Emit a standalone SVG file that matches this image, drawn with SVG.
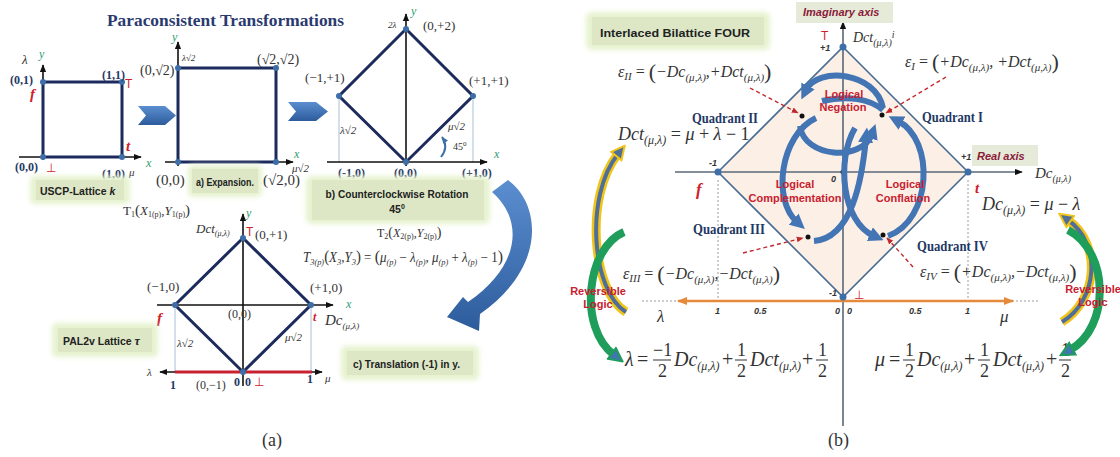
<svg xmlns="http://www.w3.org/2000/svg" width="1120" height="457" viewBox="0 0 1120 457">
<defs>
<style>
.ser{font-family:"Liberation Serif","Times New Roman",serif;}
.m{font-family:"Liberation Serif","Times New Roman",serif;font-style:italic;fill:#333;}
.n{font-family:"Liberation Serif","Times New Roman",serif;fill:#333;}
.cb{font-family:"Liberation Serif","Times New Roman",serif;font-weight:bold;fill:#1f3864;font-size:12px;}
.q{font-family:"Liberation Serif","Times New Roman",serif;font-weight:bold;fill:#1f3864;font-size:14px;}
.bx{font-family:"Liberation Sans",Arial,sans-serif;font-weight:bold;fill:#222;font-size:10.5px;}
.rd{font-family:"Liberation Sans",Arial,sans-serif;font-weight:bold;fill:#c8202e;font-size:11px;}
.rf{font-family:"Liberation Serif","Times New Roman",serif;font-weight:bold;font-style:italic;fill:#d0202a;}
.tT{font-family:"Liberation Sans",Arial,sans-serif;fill:#d0202a;font-size:12px;}
.g{font-family:"Liberation Serif","Times New Roman",serif;font-style:italic;fill:#2e9e6e;font-size:12px;}
.tk{font-family:"Liberation Sans",Arial,sans-serif;font-weight:bold;font-style:italic;fill:#333;font-size:9px;}
.ax{stroke:#111;stroke-width:1.6;fill:none;}
.nv{stroke:#1c2a5c;stroke-width:3;fill:none;}
.thin{stroke:#a8bfd8;stroke-width:1;}
.dot{fill:#3d6ea8;}
.bd{fill:#111;}
.sw{stroke:#4374b4;stroke-width:6;fill:none;}
.dr{stroke:#c0282d;stroke-width:1.4;stroke-dasharray:4 3;fill:none;}
.dg{stroke:#9a9a9a;stroke-width:1;stroke-dasharray:2 2;fill:none;}
.gb{fill:#e6f2cf;filter:url(#glow);}
.gi{fill:#dde7c6;}
.ia{font-family:"Liberation Sans",Arial,sans-serif;font-weight:bold;font-style:italic;fill:#8a1a3a;font-size:11px;}
</style>
<filter id="glow" x="-20%" y="-40%" width="140%" height="180%"><feGaussianBlur stdDeviation="2.5"/></filter>
<linearGradient id="bl" x1="0" y1="0" x2="0" y2="1"><stop offset="0" stop-color="#5b8ed0"/><stop offset="1" stop-color="#2d5c9c"/></linearGradient>
<marker id="ak" viewBox="0 0 10 10" refX="9" refY="5" markerWidth="8" markerHeight="8" markerUnits="userSpaceOnUse" orient="auto-start-reverse"><path d="M0,1 L10,5 L0,9 z" fill="#111"/></marker>
<marker id="ao" viewBox="0 0 10 10" refX="9" refY="5" markerWidth="10" markerHeight="10" markerUnits="userSpaceOnUse" orient="auto-start-reverse"><path d="M0,1 L10,5 L0,9 z" fill="#e5893a"/></marker>
<marker id="ar" viewBox="0 0 10 10" refX="9" refY="5" markerWidth="7" markerHeight="7" markerUnits="userSpaceOnUse" orient="auto"><path d="M0,1 L10,5 L0,9 z" fill="#c0282d"/></marker>
<marker id="abl" viewBox="0 0 10 10" refX="9" refY="5" markerWidth="7" markerHeight="7" markerUnits="userSpaceOnUse" orient="auto"><path d="M0,1 L10,5 L0,9 z" fill="#3d6ea8"/></marker>
<marker id="ab" viewBox="0 0 10 10" refX="3" refY="5" markerWidth="15" markerHeight="15" markerUnits="userSpaceOnUse" orient="auto"><path d="M0,0 L10,5 L0,10 z" fill="#4374b4"/></marker>
<marker id="ay" viewBox="0 0 12 12" refX="3" refY="6" markerWidth="16" markerHeight="16" markerUnits="userSpaceOnUse" orient="auto"><path d="M1,1 L11,6 L1,11 z" fill="#4f6f98" stroke="#f0c419" stroke-width="1.5"/></marker>
<marker id="ag" viewBox="0 0 12 12" refX="3" refY="6" markerWidth="16" markerHeight="16" markerUnits="userSpaceOnUse" orient="auto"><path d="M1,1 L11,6 L1,11 z" fill="#3f78ad" stroke="#1e9e5a" stroke-width="1.5"/></marker>
</defs>
<rect width="1120" height="457" fill="#ffffff"/>

<!-- ================= PANEL (a) ================= -->
<g id="title-a">
<text class="ser" x="107" y="26" font-weight="bold" font-size="17" fill="#2a3a70" textLength="237" lengthAdjust="spacingAndGlyphs">Paraconsistent Transformations</text>
</g>

<g id="uscp-lattice">
<line class="ax" x1="43" y1="160" x2="43" y2="65" marker-end="url(#ak)"/>
<line class="ax" x1="19" y1="157" x2="141" y2="157" marker-end="url(#ak)"/>
<rect class="nv" x="43" y="82" width="79" height="75"/>
<circle class="dot" cx="43" cy="82" r="3"/><circle class="dot" cx="122" cy="82" r="3"/>
<circle class="dot" cx="122" cy="157" r="3"/><circle class="dot" cx="43" cy="157" r="3"/>
<text class="m" x="22" y="64" font-size="13">λ</text>
<text class="g" x="39" y="58">y</text>
<text class="cb" x="10" y="84">(0,1)</text>
<text class="rf" x="30" y="99" font-size="15">f</text>
<text class="cb" x="102" y="79">(1,1)</text>
<text class="tT" x="125" y="88">T</text>
<text class="rf" x="126" y="151" font-size="15">t</text>
<text class="g" x="146" y="167">x</text>
<text class="cb" x="15" y="171">(0,0)</text>
<text class="tT" x="46" y="172">⊥</text>
<text class="cb" x="102" y="178">(1,0)</text>
<text class="m" x="129" y="176" font-size="11">μ</text>
<rect class="gb" x="30" y="176" width="100" height="28" rx="5"/>
<rect class="gi" x="36" y="180" width="88" height="20"/>
<text class="bx" x="40" y="195">USCP-Lattice <tspan font-style="italic">k</tspan></text>
</g>

<g id="arrow-1"><polygon points="138,106 165,106 176,115.5 165,125 138,125 146,115.5" fill="url(#bl)"/></g>

<g id="expansion">
<line class="ax" x1="178" y1="166" x2="178" y2="42" marker-end="url(#ak)"/>
<line class="ax" x1="165" y1="162" x2="293" y2="162" marker-end="url(#ak)"/>
<rect class="nv" x="178" y="68" width="98" height="94"/>
<circle class="dot" cx="178" cy="68" r="3"/><circle class="dot" cx="276" cy="68" r="3"/>
<circle class="dot" cx="276" cy="162" r="3"/><circle class="dot" cx="178" cy="162" r="3"/>
<text class="g" x="172" y="41" font-size="11">y</text>
<text class="n" x="140" y="75" font-size="14">(0,√2)</text>
<text class="m" x="182" y="61" font-size="9">λ√2</text>
<text class="n" x="257" y="64" font-size="14">(√2,√2)</text>
<text class="g" x="294" y="158">x</text>
<text class="m" x="292" y="172" font-size="11">μ√2</text>
<text class="n" x="156" y="185" font-size="15">(0,0)</text>
<rect class="gb" x="188" y="165" width="74" height="32" rx="5"/>
<rect class="gi" x="192" y="169" width="66" height="24"/>
<text class="bx" x="196" y="186" textLength="58" lengthAdjust="spacingAndGlyphs">a) Expansion.</text>
<text class="n" x="263" y="185" font-size="15">(√2,0)</text>
</g>

<g id="arrow-2"><polygon points="288,102 316,102 328,111.5 316,121 288,121 296,111.5" fill="url(#bl)"/></g>

<g id="rotation">
<line class="thin" x1="339" y1="96" x2="339" y2="162"/>
<line class="thin" x1="473" y1="96" x2="473" y2="162"/>
<line class="ax" x1="406" y1="166" x2="406" y2="14" marker-end="url(#ak)"/>
<line class="ax" x1="327" y1="162" x2="487" y2="162" marker-end="url(#ak)"/>
<polygon class="nv" points="406,29 473,96 406,162 339,96"/>
<circle class="dot" cx="406" cy="29" r="3"/><circle class="dot" cx="473" cy="96" r="3"/>
<circle class="dot" cx="406" cy="162" r="3"/><circle class="dot" cx="339" cy="96" r="3"/>
<path d="M 441 157 Q 449 147 442 137" stroke="#3d6ea8" stroke-width="2" fill="none" marker-end="url(#abl)"/>
<text class="m" x="388" y="28" font-size="9">2λ</text>
<text class="g" x="411" y="15">y</text>
<text class="n" x="423" y="30" font-size="13">(0,+2)</text>
<text class="n" x="305" y="82" font-size="13">(−1,+1)</text>
<text class="n" x="469" y="85" font-size="13">(+1,+1)</text>
<text class="m" x="340" y="134" font-size="11">λ√2</text>
<text class="m" x="448" y="130" font-size="11">μ√2</text>
<text class="n" x="453" y="150" font-size="10">45<tspan font-size="7" dy="-4">0</tspan></text>
<text class="g" x="494" y="158">x</text>
<text class="cb" x="338" y="177">(-1,0)</text>
<text class="cb" x="394" y="177">(0,0)</text>
<text class="cb" x="462" y="177">(+1,0)</text>
<rect class="gb" x="306" y="176" width="184" height="48" rx="6"/>
<rect class="gi" x="312" y="180" width="172" height="40"/>
<text class="bx" x="397" y="198" text-anchor="middle" font-size="11" textLength="143" lengthAdjust="spacingAndGlyphs">b) Counterclockwise Rotation</text>
<text class="bx" x="397" y="213" text-anchor="middle" font-size="11">45<tspan font-size="7" dy="-4">0</tspan></text>
</g>

<g id="arrow-3">
<path d="M 492 192 L 508 180 C 542 205, 546 268, 480 314 L 479 331 L 447 317 L 463 297 L 468 302 C 518 268, 526 222, 492 192 Z" fill="url(#bl)"/>
</g>

<g id="formulas-a">
<text class="n" x="123" y="215" font-size="13">T<tspan font-size="8" dy="2">1</tspan><tspan dy="-2" font-size="15">(</tspan><tspan font-style="italic">X</tspan><tspan font-size="8" dy="2">1(p)</tspan><tspan dy="-2">,</tspan><tspan font-style="italic">Y</tspan><tspan font-size="8" dy="2">1(p)</tspan><tspan dy="-2" font-size="15">)</tspan></text>
<text class="n" x="377" y="237" font-size="12">T<tspan font-size="8" dy="2">2</tspan><tspan dy="-2" font-size="14">(</tspan><tspan font-style="italic">X</tspan><tspan font-size="8" dy="2">2(p)</tspan><tspan dy="-2">,</tspan><tspan font-style="italic">Y</tspan><tspan font-size="8" dy="2">2(p)</tspan><tspan dy="-2" font-size="14">)</tspan></text>
<text class="m" x="303" y="262" font-size="14" textLength="200" lengthAdjust="spacingAndGlyphs">T<tspan font-size="9" dy="3">3(p)</tspan><tspan dy="-3" font-style="normal" font-size="16">(</tspan>X<tspan font-size="9" dy="3">3</tspan><tspan dy="-3">,</tspan>Y<tspan font-size="9" dy="3">3</tspan><tspan dy="-3" font-style="normal" font-size="16">)</tspan><tspan font-style="normal"> = </tspan><tspan font-style="normal" font-size="17">(</tspan>μ<tspan font-size="9" dy="3">(p)</tspan><tspan dy="-3" font-style="normal"> − </tspan>λ<tspan font-size="9" dy="3">(p)</tspan><tspan dy="-3">, </tspan>μ<tspan font-size="9" dy="3">(p)</tspan><tspan dy="-3" font-style="normal"> + </tspan>λ<tspan font-size="9" dy="3">(p)</tspan><tspan dy="-3" font-style="normal"> − 1</tspan><tspan font-style="normal" font-size="17">)</tspan></text>
</g>

<g id="pal2v-lattice">
<line class="thin" x1="175" y1="305" x2="175" y2="372"/>
<line class="thin" x1="311" y1="305" x2="311" y2="372"/>
<line class="ax" x1="243" y1="386" x2="243" y2="214" marker-end="url(#ak)"/>
<line class="ax" x1="157" y1="305" x2="333" y2="305" marker-end="url(#ak)"/>
<line class="ax" x1="160" y1="372" x2="322" y2="372" marker-start="url(#ak)" marker-end="url(#ak)"/>
<line x1="175" y1="372" x2="312" y2="372" stroke="#c8202e" stroke-width="3"/>
<polygon class="nv" points="243,238 311,305 243,372 175,305"/>
<circle class="dot" cx="243" cy="238" r="3"/><circle class="dot" cx="311" cy="305" r="3"/>
<circle class="dot" cx="243" cy="372" r="3"/><circle class="dot" cx="175" cy="305" r="3"/>
<text class="g" x="246" y="217">y</text>
<text class="m" x="196" y="233" font-size="13">Dct<tspan font-size="8" dy="3">(μ,λ)</tspan></text>
<text class="tT" x="246" y="236">T</text>
<text class="n" x="255" y="239" font-size="13">(0,+1)</text>
<text class="n" x="147" y="291" font-size="13">(−1,0)</text>
<text class="rf" x="157" y="323" font-size="15">f</text>
<text class="n" x="228" y="318" font-size="12">(0,0)</text>
<text class="n" x="310" y="292" font-size="13">(+1,0)</text>
<text class="g" x="346" y="308">x</text>
<text class="rf" x="313" y="321" font-size="12">t</text>
<text class="m" x="325" y="325" font-size="15">Dc<tspan font-size="9" dy="4">(μ,λ)</tspan></text>
<text class="m" x="177" y="347" font-size="11">λ√2</text>
<text class="m" x="285" y="341" font-size="11">μ√2</text>
<text class="m" x="147" y="376" font-size="11">λ</text>
<text class="cb" x="170" y="389">1</text>
<text class="n" x="196" y="389" font-size="12">(0,−1)</text>
<text class="cb" x="234" y="386">0</text><text class="cb" x="245" y="386">0</text>
<text class="tT" x="254" y="386">⊥</text>
<text class="cb" x="307" y="383">1</text>
<text class="m" x="325" y="382" font-size="11">μ</text>
<rect class="gb" x="52" y="323" width="106" height="34" rx="5"/>
<rect class="gi" x="58" y="328" width="94" height="24"/>
<text class="bx" x="63" y="345">PAL2v Lattice <tspan font-family="Liberation Serif" font-style="italic" font-size="12">τ</tspan></text>
<rect class="gb" x="341" y="346" width="138" height="34" rx="5"/>
<rect class="gi" x="347" y="351" width="126" height="24"/>
<text class="bx" x="353" y="368" textLength="107" lengthAdjust="spacingAndGlyphs">c) Translation (-1) in y.</text>
</g>

<text class="n" x="262" y="446" font-size="18">(a)</text>

<!-- ================= PANEL (b) ================= -->
<g id="bilattice-diamond">
<polygon points="843,47 968,172 843,297 718,172" fill="#fcefe6" stroke="#4a6d94" stroke-width="1.6"/>
<line x1="843" y1="426" x2="843" y2="22" stroke="#5a6878" stroke-width="1.6" marker-end="url(#ak)"/>
<line x1="675" y1="172" x2="1022" y2="172" stroke="#5a6878" stroke-width="1.6" marker-end="url(#ak)"/>
<line class="dg" x1="718" y1="180" x2="718" y2="300"/>
<line class="dg" x1="968" y1="180" x2="968" y2="300"/>
<line class="dg" x1="642" y1="301" x2="678" y2="301"/>
<line class="dg" x1="1012" y1="301" x2="1040" y2="301"/>
<line x1="678" y1="301" x2="1013" y2="301" stroke="#e5893a" stroke-width="2.5" marker-start="url(#ao)" marker-end="url(#ao)"/>
<circle class="dot" cx="843" cy="47" r="3.5"/><circle class="dot" cx="968" cy="172" r="3.5"/>
<circle class="dot" cx="843" cy="297" r="3.5"/><circle class="dot" cx="718" cy="172" r="3.5"/>
<circle class="bd" cx="843" cy="172" r="2.5"/>
</g>

<g id="axis-labels-b">
<rect x="796" y="2" width="97" height="21" fill="#e6ead8"/>
<text class="ia" x="803" y="16">Imaginary axis</text>
<text class="m" x="853" y="42" font-size="14">Dct<tspan font-size="10" dy="4">(μ,λ)</tspan><tspan font-size="10" dy="-8">i</tspan></text>
<text class="tT" x="821" y="40">T</text>
<text class="tk" x="820" y="51">+1</text>
<text class="tk" x="709" y="166">-1</text>
<text class="tk" x="961" y="160">+1</text>
<rect x="972" y="145" width="66" height="21" fill="#e6ead8"/>
<text class="ia" x="977" y="160" font-size="12">Real axis</text>
<text class="m" x="1035" y="178" font-size="15">Dc<tspan font-size="10" dy="4">(μ,λ)</tspan></text>
<text class="tk" x="831" y="182">0</text>
<text class="rf" x="696" y="195" font-size="17">f</text>
<text class="rf" x="975" y="193" font-size="15">t</text>
<text class="tk" x="829" y="296">-1</text>
<text class="tT" x="854" y="299">⊥</text>
<text class="tk" x="715" y="314">1</text>
<text class="tk" x="754" y="314">0.5</text>
<text class="tk" x="835" y="314">0</text>
<text class="tk" x="847" y="314">0</text>
<text class="tk" x="909" y="314">0.5</text>
<text class="tk" x="965" y="314">1</text>
<text class="m" x="657" y="322" font-size="17">λ</text>
<text class="m" x="1000" y="322" font-size="17">μ</text>
</g>

<g id="interlaced-title">
<rect class="gb" x="586" y="12" width="184" height="38" rx="6"/>
<rect class="gi" x="592" y="17" width="172" height="28"/>
<text class="bx" x="600" y="37" font-size="12" textLength="150" lengthAdjust="spacingAndGlyphs">Interlaced Bilattice FOUR</text>
</g>

<g id="quadrants">
<text class="q" x="692" y="123" textLength="66" lengthAdjust="spacingAndGlyphs">Quadrant II</text>
<text class="q" x="922" y="122" textLength="61" lengthAdjust="spacingAndGlyphs">Quadrant I</text>
<text class="q" x="693" y="234" textLength="72" lengthAdjust="spacingAndGlyphs">Quadrant III</text>
<text class="q" x="917" y="251" textLength="71" lengthAdjust="spacingAndGlyphs">Quadrant IV</text>
</g>

<g id="epsilon-formulas">
<text class="m" x="618" y="77" font-size="16">ε<tspan font-size="11" dy="3">II</tspan><tspan dy="-3" font-style="normal"> = </tspan><tspan font-size="22" font-style="normal" dy="2">(</tspan><tspan dy="-2">−Dc</tspan><tspan font-size="11" dy="4">(μ,λ)</tspan><tspan dy="-4">,+Dct</tspan><tspan font-size="11" dy="4">(μ,λ)</tspan><tspan font-size="22" font-style="normal" dy="-2">)</tspan></text>
<text class="m" x="905" y="67" font-size="16">ε<tspan font-size="11" dy="3">I</tspan><tspan dy="-3" font-style="normal"> = </tspan><tspan font-size="22" font-style="normal" dy="2">(</tspan><tspan dy="-2">+Dc</tspan><tspan font-size="11" dy="4">(μ,λ)</tspan><tspan dy="-4">, +Dct</tspan><tspan font-size="11" dy="4">(μ,λ)</tspan><tspan font-size="22" font-style="normal" dy="-2">)</tspan></text>
<text class="m" x="623" y="279" font-size="16">ε<tspan font-size="11" dy="3">III</tspan><tspan dy="-3" font-style="normal"> = </tspan><tspan font-size="22" font-style="normal" dy="2">(</tspan><tspan dy="-2">−Dc</tspan><tspan font-size="11" dy="4">(μ,λ)</tspan><tspan dy="-4">,−Dct</tspan><tspan font-size="11" dy="4">(μ,λ)</tspan><tspan font-size="22" font-style="normal" dy="-2">)</tspan></text>
<text class="m" x="920" y="277" font-size="16">ε<tspan font-size="11" dy="3">IV</tspan><tspan dy="-3" font-style="normal"> = </tspan><tspan font-size="22" font-style="normal" dy="2">(</tspan><tspan dy="-2">+Dc</tspan><tspan font-size="11" dy="4">(μ,λ)</tspan><tspan dy="-4">,−Dct</tspan><tspan font-size="11" dy="4">(μ,λ)</tspan><tspan font-size="22" font-style="normal" dy="-2">)</tspan></text>
<text class="m" x="618" y="140" font-size="18">Dct<tspan font-size="12" dy="4">(μ,λ)</tspan><tspan dy="-4" font-style="normal"> = </tspan>μ<tspan font-style="normal"> + </tspan>λ<tspan font-style="normal"> − 1</tspan></text>
<text class="m" x="982" y="210" font-size="18">Dc<tspan font-size="12" dy="4">(μ,λ)</tspan><tspan dy="-4" font-style="normal"> = </tspan>μ<tspan font-style="normal"> − </tspan>λ</text>
</g>

<g id="lambda-mu-formulas">
<text class="m" x="625" y="366" font-size="20">λ</text>
<text class="n" x="637" y="366" font-size="20">=</text>
<text class="n" x="653" y="356" font-size="18">−1</text>
<line x1="653" y1="360" x2="671" y2="360" stroke="#333" stroke-width="1"/>
<text class="n" x="658" y="377" font-size="18">2</text>
<text class="m" x="674" y="366" font-size="20">Dc<tspan font-size="12" dy="4">(μ,λ)</tspan></text>
<text class="n" x="722" y="366" font-size="20">+</text>
<text class="n" x="737" y="356" font-size="18">1</text>
<line x1="735" y1="360" x2="747" y2="360" stroke="#333" stroke-width="1"/>
<text class="n" x="737" y="377" font-size="18">2</text>
<text class="m" x="750" y="366" font-size="20">Dct<tspan font-size="12" dy="4">(μ,λ)</tspan></text>
<text class="n" x="802" y="366" font-size="20">+</text>
<text class="n" x="818" y="356" font-size="18">1</text>
<line x1="816" y1="360" x2="828" y2="360" stroke="#333" stroke-width="1"/>
<text class="n" x="818" y="377" font-size="18">2</text>

<text class="m" x="875" y="366" font-size="20">μ</text>
<text class="n" x="889" y="366" font-size="20">=</text>
<text class="n" x="905" y="356" font-size="18">1</text>
<line x1="903" y1="360" x2="915" y2="360" stroke="#333" stroke-width="1"/>
<text class="n" x="905" y="377" font-size="18">2</text>
<text class="m" x="917" y="366" font-size="20">Dc<tspan font-size="12" dy="4">(μ,λ)</tspan></text>
<text class="n" x="964" y="366" font-size="20">+</text>
<text class="n" x="980" y="356" font-size="18">1</text>
<line x1="978" y1="360" x2="990" y2="360" stroke="#333" stroke-width="1"/>
<text class="n" x="980" y="377" font-size="18">2</text>
<text class="m" x="993" y="366" font-size="20">Dct<tspan font-size="12" dy="4">(μ,λ)</tspan></text>
<text class="n" x="1046" y="366" font-size="20">+</text>
<text class="n" x="1061" y="356" font-size="18">1</text>
<line x1="1059" y1="360" x2="1071" y2="360" stroke="#333" stroke-width="1"/>
<text class="n" x="1061" y="377" font-size="18">2</text>
</g>

<g id="connectors">
<path class="dr" d="M 750 88 L 798 113" marker-end="url(#ar)"/>
<path class="dr" d="M 946 77 L 886 113" marker-end="url(#ar)"/>
<path class="dr" d="M 743 253 L 803 238" marker-end="url(#ar)"/>
<path class="dr" d="M 913 267 L 887 238" marker-end="url(#ar)"/>
<circle class="bd" cx="802" cy="116" r="2.5"/>
<circle class="bd" cx="882" cy="115" r="2.5"/>
<circle class="bd" cx="808" cy="237" r="2.5"/>
<circle class="bd" cx="883" cy="235" r="2.5"/>
<path class="sw" d="M 883 108 C 876 72, 818 66, 806 90" marker-end="url(#ab)"/>
<path class="sw" d="M 822 101 C 848 95, 870 99, 883 110"/>
<path class="sw" d="M 800 126 C 804 158, 862 162, 872 134" marker-end="url(#ab)"/>
<path class="sw" d="M 816 118 C 780 135, 772 200, 797 222" marker-end="url(#ab)"/>
<path class="sw" d="M 814 241 C 852 238, 862 180, 866 138" marker-end="url(#ab)"/>
<path class="sw" d="M 888 236 C 932 220, 935 140, 898 121" marker-end="url(#ab)"/>
<path class="sw" d="M 855 128 C 836 160, 842 222, 874 236" marker-end="url(#ab)"/>
<path d="M 626 312 C 592 292, 584 196, 618 154" stroke="#f0c419" stroke-width="9" fill="none"/>
<path d="M 626 312 C 592 292, 584 196, 618 154" stroke="#4f6f98" stroke-width="4" fill="none" marker-end="url(#ay)"/>
<path d="M 624 232 C 586 248, 578 328, 614 355" stroke="#1e9e5a" stroke-width="8" fill="none" marker-end="url(#ag)"/>
<path d="M 1062 322 C 1098 300, 1102 244, 1068 220" stroke="#f0c419" stroke-width="9" fill="none"/>
<path d="M 1062 322 C 1098 300, 1102 244, 1068 220" stroke="#4f6f98" stroke-width="4" fill="none" marker-end="url(#ay)"/>
<path d="M 1068 230 C 1110 252, 1110 328, 1070 350" stroke="#1e9e5a" stroke-width="8" fill="none" marker-end="url(#ag)"/>
</g>

<g id="logic-labels">
<text class="rd" x="844" y="98" text-anchor="middle">Logical</text>
<text class="rd" x="843" y="111" text-anchor="middle">Negation</text>
<text class="rd" x="795" y="188" text-anchor="middle">Logical</text>
<text class="rd" x="795" y="202" text-anchor="middle">Complementation</text>
<text class="rd" x="905" y="188" text-anchor="middle">Logical</text>
<text class="rd" x="903" y="202" text-anchor="middle">Conflation</text>
<text class="rd" x="598" y="295" text-anchor="middle">Reversible</text>
<text class="rd" x="598" y="308" text-anchor="middle">Logic</text>
<text class="rd" x="1093" y="293" text-anchor="middle">Reversible</text>
<text class="rd" x="1093" y="306" text-anchor="middle">Logic</text>
</g>

<text class="n" x="828" y="446" font-size="18">(b)</text>
</svg>
